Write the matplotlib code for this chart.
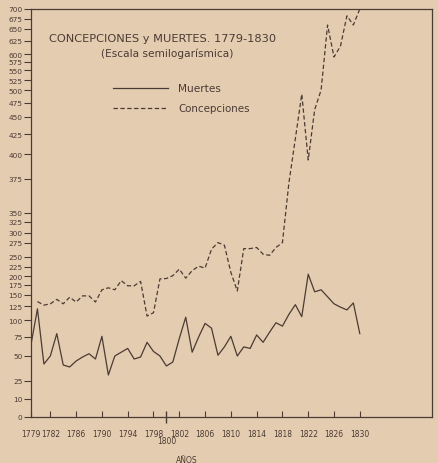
import numpy as np
import matplotlib
matplotlib.use("Agg")
import matplotlib.pyplot as plt

years = np.arange(1779, 1831)

muertes = [65, 120, 42, 50, 80, 41, 39, 45, 49, 53,
           47, 76, 31, 50, 55, 60, 47, 49, 68, 56,
           50, 40, 44, 73, 105, 55, 75, 95, 88, 51,
           62, 76, 50, 62, 60, 78, 68, 82, 96, 91,
           110, 128, 106, 205, 158, 163, 146, 130, 123, 118,
           132, 80]

concepciones = [np.nan, 135, 127, 130, 140, 130, 145, 134, 148, 148,
                134, 163, 168, 163, 187, 173, 173, 185, 107, 113,
                192, 193, 201, 219, 194, 215, 227, 222, 264, 276,
                271, 210, 160, 265, 265, 267, 255, 253, 267, 276,
                372, 419, 492, 394, 463, 500, 660, 590, 615, 683,
                660, 700]

ytick_vals = [0, 10, 25, 50, 75, 100, 125, 150, 175, 200, 225, 250, 275, 300,
              325, 350, 375, 400, 425, 450, 475, 500, 525, 550, 575, 600,
              625, 650, 675, 700]
xtick_vals = [1779, 1782, 1786, 1790, 1794, 1798, 1802, 1806, 1810, 1814,
              1818, 1822, 1826, 1830]

# hand-drawn "semilogarithmic" axis: where each tick sits (pixels above the x axis)
tick_px = 418 - np.array([418, 400, 382, 357, 338, 321, 307, 296, 286, 277,
                          268, 258, 244, 234, 223, 214, 180, 155, 135, 118,
                          104, 91, 81, 71, 62.5, 55, 42, 30, 20, 10], float)
tick_v = np.array(ytick_vals, float)


def fwd(v):
    return np.interp(v, tick_v, tick_px)


def inv(p):
    return np.interp(p, tick_px, tick_v)


bg = "#e4ccb0"
ink = "#4a3b34"

fig = plt.figure(figsize=(4.38, 4.64), dpi=100, facecolor=bg)
ax = fig.add_axes([31 / 438, 46 / 464, 401 / 438, 408 / 464])
ax.set_facecolor(bg)
ax.set_yscale("function", functions=(fwd, inv))

ax.plot(years, muertes, color=ink, lw=0.9)
ax.plot(years, concepciones, color=ink, lw=0.9, ls=(0, (3.5, 2)))

ax.set_xlim(1779, 1841.2)
ax.set_ylim(0, 700)

ax.set_yticks(ytick_vals)
ax.set_yticklabels([str(v) for v in ytick_vals], fontsize=5.3, color=ink)
ax.set_xticks(xtick_vals)
ax.set_xticklabels([str(v) for v in xtick_vals], fontsize=5.5, color=ink)
ax.tick_params(axis="y", direction="out", length=5, width=0.8, color=ink, pad=1)
ax.tick_params(axis="x", direction="in", length=4, width=0.8, color=ink, pad=9)
ax.minorticks_off()
ax.set_xticks([1800], minor=True)
ax.tick_params(axis="x", which="minor", direction="inout", length=9, width=1.0,
               color=ink)
ax.text(1800, -0.058, "1800", transform=ax.get_xaxis_transform(), ha="center",
        va="center", fontsize=5.5, color=ink)
ax.text(1803.2, -0.103, "AÑOS", transform=ax.get_xaxis_transform(), ha="center",
        va="center", fontsize=5.5, color=ink)

for s in ax.spines.values():
    s.set_color(ink)
    s.set_linewidth(0.9)

fig.text(163 / 438, 1 - 39 / 464, "CONCEPCIONES y MUERTES. 1779-1830",
         ha="center", va="center", fontsize=8.2, color=ink)
fig.text(167 / 438, 1 - 54 / 464, "(Escala semilogarísmica)",
         ha="center", va="center", fontsize=7.6, color=ink)

fig.add_artist(plt.Line2D([113 / 438, 168 / 438], [1 - 89 / 464] * 2,
                          color=ink, lw=0.9))
fig.add_artist(plt.Line2D([113 / 438, 168 / 438], [1 - 109 / 464] * 2,
                          color=ink, lw=0.9, ls=(0, (3.5, 2))))
fig.text(178 / 438, 1 - 89 / 464, "Muertes", ha="left", va="center",
         fontsize=7.6, color=ink)
fig.text(178 / 438, 1 - 109 / 464, "Concepciones", ha="left", va="center",
         fontsize=7.4, color=ink)

fig.savefig("out.png", dpi=100, facecolor=bg)
